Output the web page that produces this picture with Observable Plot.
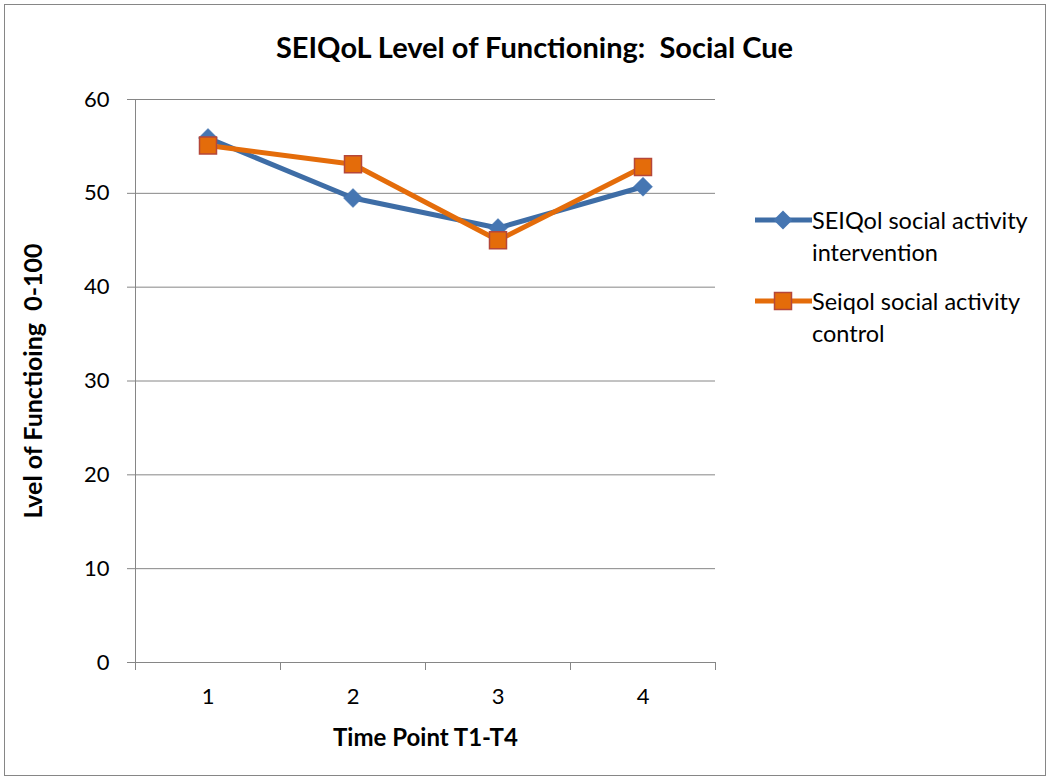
<!DOCTYPE html>
<html><head><meta charset="utf-8">
<script src="https://cdn.jsdelivr.net/npm/d3@7"></script>
<script src="https://cdn.jsdelivr.net/npm/@observablehq/plot@0.6"></script>
<style>
body{margin:0;background:#fff;}
#wrap{position:relative;width:1050px;height:780px;font-family:Lato,"Open Sans",sans-serif;overflow:hidden}
#border{position:absolute;left:4px;top:4px;width:1040px;height:770px;border:1px solid #868686;pointer-events:none}
#chart{position:absolute;left:0;top:0}
#legend{position:absolute;left:755px;top:204px;font-size:23.5px;line-height:32px;color:#000}
.entry{display:flex;align-items:flex-start;margin-bottom:17px}
.entry .txt{width:232px}
svg text{white-space:pre}
</style></head><body>
<div id="wrap"><div id="border"></div><div id="chart"></div><div id="legend"></div></div>
<script>
const timePoints = [1, 2, 3, 4];
const intervention = [55.9, 49.5, 46.3, 50.7];
const control = [55.1, 53.1, 45.0, 52.8];
const seriesNames = ["SEIQol social activity intervention", "Seiqol social activity control"];
const yTicks = [0, 10, 20, 30, 40, 50, 60];
const titleText = "SEIQoL Level of Functioning:  Social Cue";
const xLabel = "Time Point T1-T4";
const yLabel = "Lvel of Functioing  0-100";

const blueLine = "#3E6DA6", blueFill = "#4676B2";
const orangeLine = "#E46C0A", orangeFill = "#E46C0A", orangeEdge = "#B5473A";

const diamond = {draw(ctx, size){const r = Math.sqrt(size/Math.PI); ctx.moveTo(0,-r); ctx.lineTo(r,0); ctx.lineTo(0,r); ctx.lineTo(-r,0); ctx.closePath();}};
const square = {draw(ctx, size){const r = Math.sqrt(size/Math.PI); ctx.rect(-r,-r,2*r,2*r);}};

const intData = timePoints.map((t,i)=>({t, v: intervention[i]}));
const ctlData = timePoints.map((t,i)=>({t, v: control[i]}));
const bounds = timePoints.map(t=>t-0.5).concat([timePoints[timePoints.length-1]+0.5]);

const chart = Plot.plot({
  width: 1050, height: 780,
  marginLeft: 135, marginRight: 335, marginTop: 99, marginBottom: 118,
  x: {type: "linear", domain: [bounds[0], bounds[bounds.length-1]]},
  y: {domain: [0, 60]},
  style: {fontFamily: 'Lato,"Open Sans",sans-serif', fontSize: "22px", color: "#000", background: "transparent"},
  marks: [
    Plot.gridY(yTicks, {stroke: "#868686", strokeOpacity: 1}),
    Plot.ruleX([bounds[0]], {y1: 0, y2: 60, stroke: "#868686"}),
    Plot.ruleY([0], {stroke: "#868686"}),
    Plot.axisY(yTicks, {tickSize: 8, tickPadding: 18, stroke: "#868686", label: null, fontSize: 22, fill: "#000"}),
    Plot.axisX(bounds, {tickSize: 8, tickFormat: () => "", label: null, stroke: "#868686"}),
    Plot.axisX(timePoints, {tickSize: 0, tickPadding: 26, tickFormat: d => String(d), label: null, fontSize: 22, fill: "#000"}),
    Plot.line(intData, {x: "t", y: "v", stroke: blueLine, strokeWidth: 5, strokeLinejoin: "round"}),
    Plot.dot(intData, {x: "t", y: "v", symbol: diamond, r: 9.5, fill: blueFill, stroke: blueFill, strokeWidth: 0.5}),
    Plot.line(ctlData, {x: "t", y: "v", stroke: orangeLine, strokeWidth: 5, strokeLinejoin: "round"}),
    Plot.dot(ctlData, {x: "t", y: "v", symbol: square, r: 8.5, fill: orangeFill, stroke: orangeEdge, strokeWidth: 1.5}),
    Plot.text([titleText], {frameAnchor: "top", lineAnchor: "middle", textAnchor: "middle", dx: 109, dy: -51, fontSize: 29, fontWeight: "bold", fill: "#000"}),
    Plot.text([xLabel], {frameAnchor: "bottom", lineAnchor: "middle", textAnchor: "middle", dy: 76, fontSize: 24, fontWeight: "bold", fill: "#000"}),
    Plot.text([yLabel], {frameAnchor: "left", lineAnchor: "middle", textAnchor: "middle", dx: -102, rotate: -90, fontSize: 25, fontWeight: "bold", fill: "#000"})
  ]
});
document.getElementById("chart").appendChild(chart);

const legend = document.getElementById("legend");
const swatches = [
  `<svg width="57" height="32"><line x1="0" y1="16" x2="57" y2="16" stroke="${blueLine}" stroke-width="5" stroke-linecap="round"/><path d="M28,6.5L37.5,16L28,25.5L18.5,16Z" fill="${blueFill}"/></svg>`,
  `<svg width="57" height="32"><line x1="0" y1="16" x2="57" y2="16" stroke="${orangeLine}" stroke-width="5" stroke-linecap="round"/><rect x="19.5" y="7.5" width="17" height="17" fill="${orangeFill}" stroke="${orangeEdge}" stroke-width="1.5"/></svg>`
];
seriesNames.forEach((n,i)=>{
  const e = document.createElement("div");
  e.className = "entry";
  e.innerHTML = swatches[i] + `<div class="txt">${n}</div>`;
  legend.appendChild(e);
});
</script>
</body></html>
